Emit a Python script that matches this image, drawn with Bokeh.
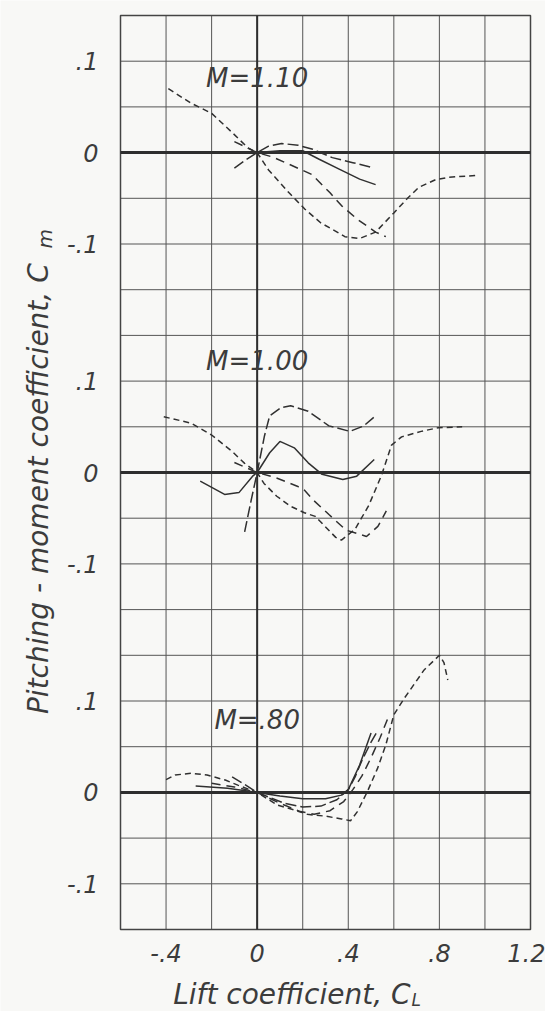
import math
from bokeh.plotting import figure
from bokeh.models import FixedTicker, Label, Range1d
from bokeh.embed import file_html
from bokeh.resources import INLINE

# ---------------- data ----------------
x_ticks = [-0.4, 0.0, 0.4, 0.8, 1.2]
x_tick_labels = ["-.4", "0", ".4", ".8", "1.2"]
x_grid = [-0.6, -0.4, -0.2, 0.0, 0.2, 0.4, 0.6, 0.8, 1.0, 1.2]
y_grid = [-0.15, -0.1, -0.05, 0.0, 0.05, 0.1, 0.15, 0.2, 0.25, 0.3, 0.35,
          0.4, 0.45, 0.5, 0.55, 0.6, 0.65, 0.7, 0.75, 0.8, 0.85]
y_tick_rel = [-0.1, 0.0, 0.1]
y_tick_labels = ["-.1", "0", ".1"]
mach_labels = ["M=1.10", "M=1.00", "M=.80"]
panel_offsets = [0.70, 0.35, 0.0]   # vertical shift of each Mach panel

# M = 1.10
m110_a_x = [-0.39, -0.29, -0.2, -0.11, -0.04, 0.0, 0.05, 0.14, 0.21, 0.28, 0.33, 0.385, 0.45, 0.52, 0.6, 0.66, 0.71, 0.78, 0.84, 0.96]
m110_a_y = [0.070, 0.054, 0.043, 0.022, 0.005, 0.0, -0.019, -0.044, -0.062, -0.077, -0.084, -0.092, -0.094, -0.087, -0.066, -0.05, -0.038, -0.030, -0.027, -0.025]
m110_b_x = [-0.1, -0.05, 0.0, 0.05, 0.107, 0.18, 0.24, 0.33, 0.42, 0.5]
m110_b_y = [-0.017, -0.008, 0.0, 0.007, 0.010, 0.008, 0.004, -0.0055, -0.011, -0.016]
m110_c_x = [-0.25, -0.1, 0.0, 0.1, 0.2, 0.27, 0.36, 0.45, 0.52]
m110_c_y = [0.0, 0.0, 0.0, 0.002, 0.002, -0.007, -0.018, -0.029, -0.035]
m110_d_x = [-0.1, -0.05, 0.0, 0.07, 0.187, 0.24, 0.32, 0.37, 0.44, 0.52, 0.565]
m110_d_y = [0.012, 0.006, 0.0, -0.005, -0.018, -0.024, -0.044, -0.058, -0.073, -0.087, -0.092]

# M = 1.00
m100_a_x = [-0.41, -0.29, -0.2, -0.11, -0.055, 0.0, 0.03, 0.086, 0.147, 0.207, 0.255, 0.298, 0.345, 0.37, 0.43, 0.49, 0.546, 0.59, 0.634, 0.72, 0.795, 0.9]
m100_a_y = [0.061, 0.054, 0.041, 0.023, 0.010, 0.0, -0.012, -0.026, -0.037, -0.044, -0.048, -0.059, -0.071, -0.074, -0.062, -0.036, -0.003, 0.030, 0.039, 0.045, 0.049, 0.050]
m100_b_x = [-0.055, -0.026, 0.0, 0.032, 0.055, 0.105, 0.147, 0.224, 0.315, 0.407, 0.468, 0.52]
m100_b_y = [-0.065, -0.030, 0.0, 0.040, 0.062, 0.071, 0.073, 0.067, 0.051, 0.045, 0.051, 0.062]
m100_c_x = [-0.25, -0.143, -0.08, -0.02, 0.0, 0.055, 0.1, 0.163, 0.224, 0.285, 0.376, 0.437, 0.514]
m100_c_y = [-0.0095, -0.024, -0.022, -0.004, 0.0, 0.0216, 0.034, 0.027, 0.0106, -0.002, -0.0077, -0.004, 0.0143]
m100_d_x = [-0.1, 0.0, 0.085, 0.176, 0.206, 0.25, 0.315, 0.39, 0.48, 0.53, 0.567]
m100_d_y = [0.011, 0.0, -0.006, -0.015, -0.019, -0.031, -0.046, -0.063, -0.070, -0.059, -0.042]

# M = 0.80
m080_a_x = [-0.4, -0.36, -0.29, -0.22, -0.14, -0.085, 0.0, 0.09, 0.16, 0.22, 0.3, 0.37, 0.41, 0.44, 0.484, 0.528, 0.565, 0.6, 0.646, 0.733, 0.8, 0.82, 0.837]
m080_a_y = [0.014, 0.019, 0.021, 0.019, 0.0135, 0.008, 0.0, -0.014, -0.019, -0.024, -0.026, -0.029, -0.031, -0.021, 0.001, 0.026, 0.052, 0.085, 0.103, 0.134, 0.150, 0.142, 0.123]
m080_b_x = [-0.27, -0.13, 0.0, 0.1, 0.2, 0.3, 0.37, 0.4, 0.45, 0.5]
m080_b_y = [0.007, 0.0045, 0.0, -0.004, -0.007, -0.007, -0.003, 0.003, 0.03, 0.065]
m080_c_x = [-0.11, -0.05, 0.0, 0.12, 0.2, 0.28, 0.35, 0.4, 0.43, 0.46, 0.5, 0.53]
m080_c_y = [0.017, 0.008, 0.0, -0.012, -0.016, -0.015, -0.008, 0.003, 0.017, 0.035, 0.055, 0.068]
m080_d_x = [-0.2, -0.1, 0.0, 0.1, 0.19, 0.25, 0.32, 0.38, 0.42, 0.46, 0.5, 0.54, 0.58]
m080_d_y = [0.010, 0.006, 0.0, -0.012, -0.021, -0.024, -0.020, -0.010, 0.003, 0.018, 0.038, 0.060, 0.085]

curves = [
    (0, m110_a_x, m110_a_y, "6 4"), (0, m110_b_x, m110_b_y, "11 4"),
    (0, m110_c_x, m110_c_y, "solid"), (0, m110_d_x, m110_d_y, "9 6"),
    (1, m100_a_x, m100_a_y, "6 4"), (1, m100_b_x, m100_b_y, "11 4"),
    (1, m100_c_x, m100_c_y, "solid"), (1, m100_d_x, m100_d_y, "9 6"),
    (2, m080_a_x, m080_a_y, "6 4"), (2, m080_b_x, m080_b_y, "solid"),
    (2, m080_c_x, m080_c_y, "11 4"), (2, m080_d_x, m080_d_y, "9 6"),
]

# ---------------- layout / styling ----------------
W, H = 545, 1011
GRID_L, GRID_R, GRID_T, GRID_B = 120, 530, 15, 929      # pixel box of the grid
XMIN, XMAX, YMIN, YMAX = -0.6, 1.2, -0.15, 0.85
sx = (GRID_R - GRID_L) / (XMAX - XMIN)
sy = (GRID_B - GRID_T) / (YMAX - YMIN)
x_lo, x_hi = XMIN - GRID_L / sx, XMAX + (W - GRID_R) / sx
y_lo, y_hi = YMIN - (H - GRID_B) / sy, YMAX + GRID_T / sy

FONT = "DejaVu Sans"
INK = "#3c3c3c"
BG = "#f8f8f6"
GRID_C = "#555555"

y_ticks = []
y_overrides = {}
for off in panel_offsets:
    for t, lab in zip(y_tick_rel, y_tick_labels):
        v = round(off + t, 4)
        y_ticks.append(v)
        y_overrides[v] = lab

p = figure(width=W, height=H, x_range=Range1d(x_lo, x_hi), y_range=Range1d(y_lo, y_hi),
           output_backend="svg", toolbar_location=None,
           min_border_left=0, min_border_right=0, min_border_top=0, min_border_bottom=0)
p.background_fill_color = BG
p.border_fill_color = BG
p.outline_line_color = None
p.grid.visible = False

# axes placed at the grid's edges
p.xaxis.fixed_location = YMIN
p.yaxis.fixed_location = XMIN
p.xaxis.ticker = FixedTicker(ticks=x_ticks)
p.xaxis.major_label_overrides = dict(zip(x_ticks, x_tick_labels))
p.yaxis.ticker = FixedTicker(ticks=y_ticks)
p.yaxis.major_label_overrides = y_overrides
for ax in (p.xaxis, p.yaxis):
    ax.axis_line_color = None
    ax.major_tick_line_color = None
    ax.minor_tick_line_color = None
    ax.major_label_text_font = FONT
    ax.major_label_text_font_style = "italic"
    ax.major_label_text_color = INK
p.xaxis.major_label_text_font_size = "24px"
p.xaxis.major_label_standoff = 8
p.yaxis.major_label_text_font_size = "24px"
p.yaxis.major_label_standoff = 16

# grid
p.segment(x0=x_grid, x1=x_grid, y0=[YMIN] * len(x_grid), y1=[YMAX] * len(x_grid),
          line_color=GRID_C, line_width=1)
p.segment(x0=[XMIN] * len(y_grid), x1=[XMAX] * len(y_grid), y0=y_grid, y1=y_grid,
          line_color=GRID_C, line_width=1)
p.quad(left=[XMIN], right=[XMAX], bottom=[YMIN], top=[YMAX], fill_color=None,
       line_color="#444444", line_width=1.5)
# zero lines
p.segment(x0=[XMIN] * 3, x1=[XMAX] * 3, y0=panel_offsets, y1=panel_offsets,
          line_color="#2e2e2e", line_width=3)
p.segment(x0=[0.0], x1=[0.0], y0=[YMIN], y1=[YMAX], line_color="#2e2e2e", line_width=2)

for panel, xs, ys, dash in curves:
    off = panel_offsets[panel]
    p.line(xs, [v + off for v in ys], line_color="#303030", line_width=1.5, line_dash=dash)

label_dy = [0.082, 0.122, 0.079]
for off, dy, txt in zip(panel_offsets, label_dy, mach_labels):
    p.add_layout(Label(x=0.0, y=off + dy, text=txt, text_align="center", text_baseline="middle",
                       text_font=FONT, text_font_style="italic", text_font_size="26px", text_color=INK))

# axis titles (screen units: from the canvas' left / bottom)
p.add_layout(Label(x=410, y=H - 994, x_units="screen", y_units="screen", text="Lift coefficient, C",
                   text_align="right", text_baseline="alphabetic", text_font=FONT,
                   text_font_style="italic", text_font_size="28px", text_color=INK))
p.add_layout(Label(x=411, y=H - 999, x_units="screen", y_units="screen", text="L",
                   text_align="left", text_baseline="alphabetic", text_font=FONT,
                   text_font_style="italic", text_font_size="17px", text_color=INK))
p.add_layout(Label(x=38, y=H - 245, x_units="screen", y_units="screen",
                   text="Pitching - moment  coefficient,  C", angle=math.pi / 2,
                   text_align="right", text_baseline="alphabetic", text_font=FONT,
                   text_font_style="italic", text_font_size="28px", text_color=INK))
p.add_layout(Label(x=44, y=H - 248, x_units="screen", y_units="screen", text="m", angle=math.pi / 2,
                   text_align="left", text_baseline="alphabetic", text_font=FONT,
                   text_font_style="italic", text_font_size="20px", text_color=INK))

open("out.html", "w").write(file_html(p, INLINE))
